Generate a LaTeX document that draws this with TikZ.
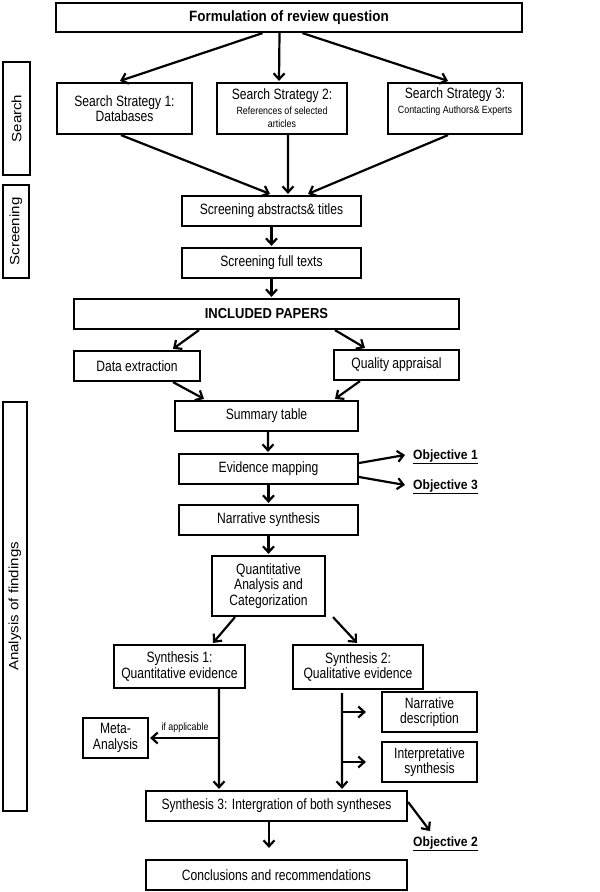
\documentclass[tikz,border=0pt]{standalone}
\usepackage{fontspec}
\setmainfont{Liberation Sans}[FakeStretch=0.81]
\newfontfamily\bfam{Liberation Sans}[FakeStretch=0.9]
\newfontfamily\smfam{Liberation Sans}[FakeStretch=0.85]
\newfontfamily\rotfam{Liberation Sans}[FakeStretch=1.12]
\usetikzlibrary{arrows.meta,calc}
\newcommand{\smtxt}{\smfam\fontsize{10.5}{11.5}\selectfont}
\tikzset{
  box/.style={draw,line width=2.2bp,inner sep=1bp,align=center,
    font=\fontsize{15}{15.5}\selectfont},
  lbl/.style={box,rotate=90,font=\rotfam\fontsize{13.5}{15}\selectfont},
  arr/.style={line width=2.2bp,-{Straight Barb[length=6bp,width=11bp]}},
  objtxt/.style={inner sep=1bp,font=\bfam\bfseries\fontsize{13.5}{14}\selectfont},
  smlbl/.style={inner sep=1bp,font=\smtxt}
}
\begin{document}
\begin{tikzpicture}[x=1bp,y=-1bp]
\useasboundingbox (0,0) rectangle (600,892);
% nodes
\node[box,minimum width=466bp,minimum height=29bp] (top) at (289,17.5)
  {\bfam\bfseries\fontsize{15}{15}\selectfont Formulation of review question};
\node[lbl,minimum width=113bp,minimum height=27bp] (search) at (16.5,118.5) {Search};
\node[box,minimum width=135bp,minimum height=51bp] (ss1) at (124.5,108.5)
  {Search Strategy 1:\\Databases};
\node[box,minimum width=130bp,minimum height=51bp] (ss2) at (282,108.5)
  {Search Strategy 2:\\[-1bp]{\smtxt References of selected}\\[-2bp]{\smtxt articles}};
\node[box,minimum width=134bp,minimum height=51bp] (ss3) at (455,108.5)
  {Search Strategy 3:\\[-1bp]{\smtxt Contacting Authors\& Experts}\\[-4bp]\strut};
\node[lbl,minimum width=93bp,minimum height=26bp] (screen) at (16,231.5) {Screening};
\node[box,minimum width=179bp,minimum height=30bp] (sat) at (271.5,211) {Screening abstracts\& titles};
\node[box,minimum width=179bp,minimum height=30bp] (sft) at (271.5,263) {Screening full texts};
\node[box,minimum width=385bp,minimum height=30bp] (inc) at (266.5,314)
  {\bfam\bfseries\fontsize{14.5}{15}\selectfont INCLUDED PAPERS};
\node[box,minimum width=126bp,minimum height=30bp] (de) at (137,366) {Data extraction};
\node[box,minimum width=125bp,minimum height=30bp] (qa) at (396.5,365) {Quality appraisal};
\node[lbl,minimum width=409bp,minimum height=24bp] (anl) at (15,606.5) {Analysis of findings};
\node[box,minimum width=183bp,minimum height=30bp] (st) at (266.5,416) {Summary table};
\node[box,minimum width=179bp,minimum height=30bp] (em) at (268.5,469) {Evidence mapping};
\node[box,minimum width=179bp,minimum height=30bp] (ns) at (268.5,520) {Narrative synthesis};
\node[box,minimum width=113bp,minimum height=60bp] (qac) at (268.5,586)
  {Quantitative\\Analysis and\\Categorization};
\node[box,minimum width=131bp,minimum height=43bp] (s1) at (179.5,666.5)
  {Synthesis 1:\\Quantitative evidence};
\node[box,minimum width=130bp,minimum height=44bp] (s2) at (358,667)
  {Synthesis 2:\\Qualitative evidence};
\node[box,minimum width=65bp,minimum height=40bp] (meta) at (115.5,738) {Meta-\\Analysis};
\node[box,minimum width=95bp,minimum height=40bp] (nd) at (429.5,712) {Narrative\\description};
\node[box,minimum width=95bp,minimum height=40bp] (is) at (429.5,762) {Interpretative\\synthesis};
\node[box,minimum width=261bp,minimum height=30bp] (s3) at (276.5,806)
  {Synthesis 3: Intergration of both syntheses};
\node[box,minimum width=261bp,minimum height=30bp] (cr) at (276.5,875)
  {Conclusions and recommendations};
\node[objtxt] (o1) at (445.5,457) {\underline{Objective 1}};
\node[objtxt] (o3) at (445.5,487) {\underline{Objective 3}};
\node[objtxt] (o2) at (445.5,844) {\underline{Objective 2}};
\node[smlbl] (ifa) at (185,727.5) {if applicable};
% connectors
\draw[arr] ($(top.south)+(-26.5,0)$) -- ($(ss1.north)+(-4.5,-1)$);
\draw[arr] ($(top.south)+(-9.5,0)$) -- ($(ss2.north)+(-3,-1)$);
\draw[arr] ($(top.south)+(13.5,0)$) -- ($(ss3.north)+(-7,-1)$);
\draw[arr] ($(ss1.south)+(-3.5,0)$) -- ($(sat.north)+(-1.5,-1)$);
\draw[arr] ($(ss2.south)+(6,0)$) -- ($(sat.north)+(16.5,-1)$);
\draw[arr] ($(ss3.south)+(-7,0)$) -- ($(sat.north)+(36.5,-1)$);
\draw[arr] (sat.south) -- ($(sft.north)+(0,-1)$);
\draw[arr] (sft.south) -- ($(sft.south|-inc.north)+(0,-1)$);
\draw[arr] ($(inc.south)+(-67.5,0)$) -- ($(de.north)+(36,-1)$);
\draw[arr] ($(inc.south)+(68.5,0)$) -- ($(qa.north)+(-31.5,-1)$);
\draw[arr] ($(de.south)+(36,0)$) -- ($(st.north)+(-62.5,-1)$);
\draw[arr] ($(qa.south)+(-36.5,0)$) -- ($(st.north)+(68.5,-1)$);
\draw[arr] ($(st.south)+(1.5,0)$) -- ($(em.north)+(-0.5,-1)$);
\draw[arr] ($(em.east)+(0,-6)$) -- ($(o1.west)+(-7,-2)$);
\draw[arr] ($(em.east)+(0,8)$) -- ($(o3.west)+(-7,-2)$);
\draw[arr] (em.south) -- ($(ns.north)+(0,-1)$);
\draw[arr] (ns.south) -- ($(qac.north)+(0,-1)$);
\draw[arr] ($(qac.south)+(-33.5,0)$) -- ($(s1.north)+(33.5,-1)$);
\draw[arr] ($(qac.south)+(64.5,0)$) -- ($(s2.north)+(-1,-1)$);
\coordinate (j1) at ($(s1.south)+(39.5,0)$);
\draw[arr] (j1) -- ($(s3.north)+(-57.5,-1)$);
\draw[arr] (j1|-meta.east) -- ($(meta.east)+(1,0)$);
\coordinate (j2) at ($(s2.south)+(-16,3)$);
\draw[arr] (j2) -- ($(s3.north)+(65.5,-1)$);
\draw[arr] (j2|-nd.west) -- ($(nd.west)+(-15,0)$);
\draw[arr] (j2|-is.west) -- ($(is.west)+(-15,0)$);
\draw[arr] ($(s3.south)+(-7.5,0)$) -- ($(cr.north)+(-7.5,-11)$);
\draw[arr] ($(s3.east)+(0,-4)$) -- ($(o2.center)+(-15.5,-13)$);
\end{tikzpicture}
\end{document}
